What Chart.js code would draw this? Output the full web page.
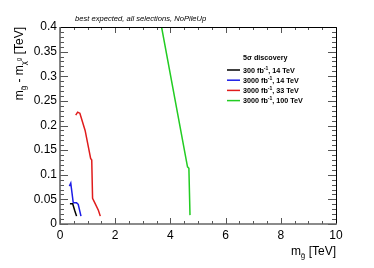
<!DOCTYPE html>
<html>
<head>
<meta charset="utf-8">
<script src="https://cdn.jsdelivr.net/npm/chart.js@4.4.0/dist/chart.umd.min.js"></script>
<style>
  body { margin: 0; background: #fff; }
</style>
</head>
<body>
<canvas id="reach" width="374" height="268"></canvas>
<script>
// series (TeV)
const lumi = ['300', '3000', '3000', '3000'];
const energy = ['14', '14', '33', '100'];
const colors = ['#000000', '#1c1ce6', '#e01c1c', '#22cc22'];

const x300_14 = [0.36, 0.46, 0.53, 0.60];
const y300_14 = [0.041, 0.041, 0.028, 0.016];
const x3000_14 = [0.34, 0.39, 0.48, 0.60, 0.66, 0.76];
const y3000_14 = [0.077, 0.083, 0.043, 0.043, 0.040, 0.016];
const x3000_33 = [0.57, 0.64, 0.72, 0.91, 1.11, 1.15, 1.18, 1.27, 1.39, 1.46];
const y3000_33 = [0.221, 0.227, 0.225, 0.19, 0.133, 0.13, 0.052, 0.042, 0.028, 0.016];
const x3000_100 = [3.68, 4.62, 4.67, 4.71];
const y3000_100 = [0.40, 0.116, 0.113, 0.018];

const xTicks = [0, 2, 4, 6, 8, 10];
const yTicks = [0, 0.05, 0.1, 0.15, 0.2, 0.25, 0.3, 0.35, 0.4];

const FONT = '"Liberation Sans", Arial, Helvetica, sans-serif';

function pts(xs, ys) {
    return xs.map((x, i) => ({ x: x, y: ys[i] }));
}

const seriesX = [x300_14, x3000_14, x3000_33, x3000_100];
const seriesY = [y300_14, y3000_14, y3000_33, y3000_100];

const datasets = seriesX.map((xs, i) => ({
    label: lumi[i] + ' fb\u207B\u00B9, ' + energy[i] + ' TeV',
    data: pts(xs, seriesY[i]),
    borderColor: colors[i],
    backgroundColor: colors[i],
    borderWidth: 1.5,
    showLine: true,
    pointRadius: 0,
    tension: 0
}));

// draw text made of pieces with own size / vertical offset
function richWidth(ctx, parts, style) {
    let w = 0;
    parts.forEach(p => {
        ctx.font = style + p.size + 'px ' + FONT;
        w += ctx.measureText(p.t).width;
    });
    return w;
}
function drawRich(ctx, parts, x, y, style) {
    let cx = x;
    parts.forEach(p => {
        ctx.font = style + p.size + 'px ' + FONT;
        ctx.fillText(p.t, cx, y + (p.dy || 0));
        cx += ctx.measureText(p.t).width;
    });
}

const rootStyle = {
    id: 'rootStyle',
    afterDraw(chart) {
        const ctx = chart.ctx;
        const a = chart.chartArea;
        const xs = chart.scales.x, ys = chart.scales.y;
        ctx.save();

        // ticks, pointing inwards, on all four sides
        ctx.strokeStyle = '#555';
        ctx.lineWidth = 1;
        ctx.beginPath();
        for (let v = 0; v <= 10.001; v += 0.5) {
            const px = Math.round(xs.getPixelForValue(v)) + 0.5;
            const len = (Math.abs(v / 2 - Math.round(v / 2)) < 1e-6) ? 6 : 3;
            ctx.moveTo(px, a.bottom); ctx.lineTo(px, a.bottom - len);
            ctx.moveTo(px, a.top); ctx.lineTo(px, a.top + len);
        }
        for (let k = 0; k <= 40; k++) {
            const py = Math.round(ys.getPixelForValue(k * 0.01)) + 0.5;
            const len = (k % 5 === 0) ? 8 : 4;
            ctx.moveTo(a.left, py); ctx.lineTo(a.left + len, py);
            ctx.moveTo(a.right, py); ctx.lineTo(a.right - len, py);
        }
        ctx.stroke();

        // frame
        ctx.strokeStyle = '#000';
        ctx.beginPath();
        ctx.moveTo(a.left, a.top + 0.5); ctx.lineTo(a.right + 0.5, a.top + 0.5);
        ctx.lineTo(a.right + 0.5, a.bottom);
        ctx.stroke();
        ctx.strokeStyle = '#666';
        ctx.lineWidth = 1.6;
        ctx.beginPath();
        ctx.moveTo(a.left, a.top); ctx.lineTo(a.left, a.bottom);
        ctx.lineTo(a.right + 1, a.bottom);
        ctx.stroke();

        ctx.fillStyle = '#000';
        ctx.textBaseline = 'alphabetic';

        // top caption
        ctx.font = 'italic 7.6px ' + FONT;
        ctx.textAlign = 'left';
        ctx.fillText('best expected, all selections, NoPileUp', 75, 21);

        // x axis title
        const xt = [
            { t: 'm', size: 12 },
            { t: 'g\u0303', size: 8, dy: 3 },
            { t: ' [TeV]', size: 12 }
        ];
        drawRich(ctx, xt, a.right - richWidth(ctx, xt, ''), 255, '');

        // y axis title
        const yt = [
            { t: 'm', size: 12 },
            { t: 'g\u0303', size: 8, dy: 3 },
            { t: ' - m', size: 12 },
            { t: '\u03C7\u0303', size: 8, dy: 3 },
            { t: '0', size: 6, dy: -2 },
            { t: ' [TeV]', size: 12 }
        ];
        ctx.save();
        ctx.translate(23, a.top);
        ctx.rotate(-Math.PI / 2);
        drawRich(ctx, yt, -richWidth(ctx, yt, ''), 0, '');
        ctx.restore();

        // legend
        ctx.font = 'bold 7.2px ' + FONT;
        ctx.fillText('5\u03C3 discovery', 243, 60);
        datasets.forEach((d, i) => {
            const yy = 70 + i * 10.2;
            ctx.strokeStyle = d.borderColor;
            ctx.lineWidth = 1.5;
            ctx.beginPath();
            ctx.moveTo(227, yy); ctx.lineTo(240, yy);
            ctx.stroke();
            const parts = [
                { t: lumi[i] + ' fb', size: 7.2 },
                { t: '-1', size: 5, dy: -3 },
                { t: ', ' + energy[i] + ' TeV', size: 7.2 }
            ];
            drawRich(ctx, parts, 243, yy + 2.5, 'bold ');
        });

        ctx.restore();
    }
};

new Chart(document.getElementById('reach'), {
    type: 'scatter',
    data: { datasets: datasets },
    options: {
        responsive: false,
        animation: false,
        layout: { padding: { top: 27, right: 38, left: 0, bottom: 0 } },
        plugins: {
            legend: { display: false },
            tooltip: { enabled: false }
        },
        scales: {
            x: {
                type: 'linear',
                min: 0,
                max: 10,
                afterBuildTicks: s => { s.ticks = xTicks.map(v => ({ value: v })); },
                afterFit: s => { s.height = 44; },
                grid: { display: false, drawTicks: false },
                border: { display: false },
                ticks: {
                    padding: 4,
                    color: '#000',
                    font: { family: FONT, size: 12 },
                    callback: v => String(v),
                    maxRotation: 0
                }
            },
            y: {
                type: 'linear',
                min: 0,
                max: 0.4,
                afterBuildTicks: s => { s.ticks = yTicks.map(v => ({ value: v })); },
                afterFit: s => { s.width = 60; },
                grid: { display: false, drawTicks: false },
                border: { display: false },
                ticks: {
                    padding: 3,
                    color: '#000',
                    font: { family: FONT, size: 12 },
                    callback: v => String(Number(v.toFixed(2)))
                }
            }
        }
    },
    plugins: [rootStyle]
});
</script>
</body>
</html>
